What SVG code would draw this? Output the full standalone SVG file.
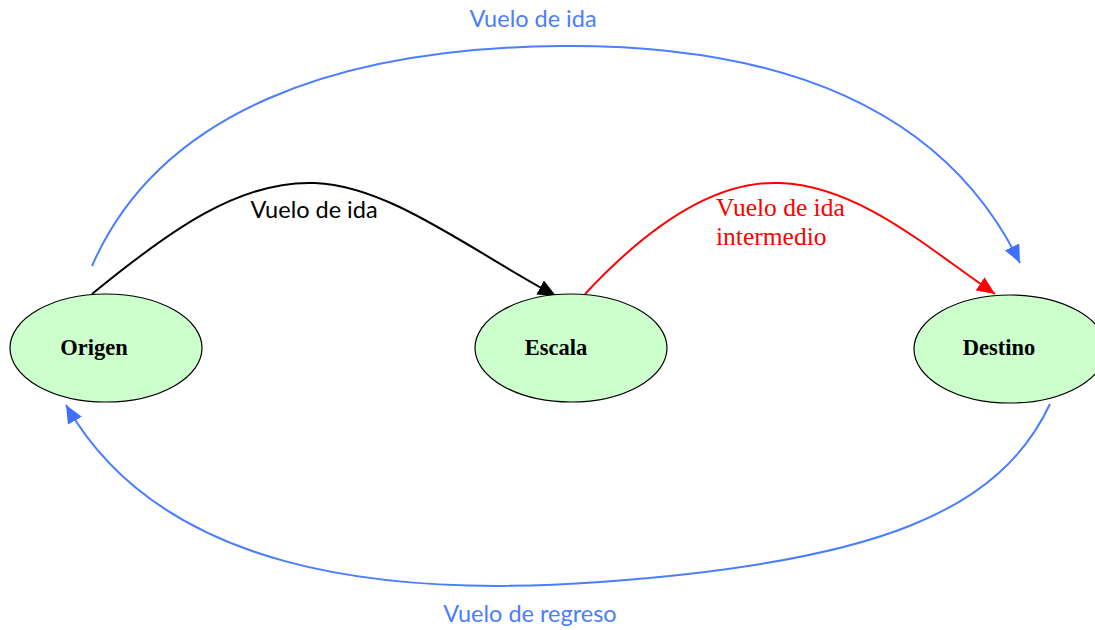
<svg xmlns="http://www.w3.org/2000/svg" width="1095" height="630" viewBox="0 0 1095 630">
<style>
.node ellipse{fill:#ccffcc;stroke:#000;stroke-width:1.2}
.node text{font-family:"Liberation Serif",serif;font-weight:bold;font-size:22.5px;text-anchor:middle;fill:#000}
.edge{fill:none;stroke-width:2}
.lbl{font-family:Lato,"Liberation Sans",sans-serif;font-size:23.5px}
.lbls{font-family:"Liberation Serif",serif;font-size:25.5px}
</style>
<defs>
<marker id="ab" markerUnits="userSpaceOnUse" markerWidth="20" markerHeight="16" refX="18" refY="8" orient="auto"><path d="M0,0 L18,8 L0,16 Z" fill="#000"/></marker>
<marker id="ar" markerUnits="userSpaceOnUse" markerWidth="20" markerHeight="16" refX="18" refY="8" orient="auto"><path d="M0,0 L18,8 L0,16 Z" fill="#ff0000"/></marker>
<marker id="al" markerUnits="userSpaceOnUse" markerWidth="20" markerHeight="16" refX="18" refY="8" orient="auto"><path d="M0,0 L18,8 L0,16 Z" fill="#3f6fff"/></marker>
</defs>
<rect width="1095" height="630" fill="#fff"/>
<g id="connectors">
<path class="edge" stroke="#4a7dff" d="M92,266 C160,110 340,48 560,46 C800,44 950,120 1020,263" marker-end="url(#al)"/>
<path class="edge" stroke="#000" d="M92,294 C170,230 240,180 315,183 C390,186 470,250 556,296" marker-end="url(#ab)"/>
<path class="edge" stroke="#ff0000" d="M585,294 C640,235 710,180 780,183 C860,186 930,250 995,294" marker-end="url(#ar)"/>
<path class="edge" stroke="#4a7dff" d="M1050,404 C1000,510 880,562 600,582 C380,598 160,570 66,405" marker-end="url(#al)"/>
</g>
<g id="labels">
<text class="lbl" x="533" y="27" text-anchor="middle" fill="#4a7dff">Vuelo de ida</text>
<text class="lbl" x="314" y="218" text-anchor="middle" fill="#000">Vuelo de ida</text>
<text class="lbls" x="716" y="216" fill="#ff0000">Vuelo de ida</text>
<text class="lbls" x="716" y="245" fill="#ff0000">intermedio</text>
<text class="lbl" x="530" y="622" text-anchor="middle" fill="#4a7dff">Vuelo de regreso</text>
</g>
<g id="origen" class="node"><ellipse cx="106" cy="348" rx="96" ry="54"/><text x="94" y="355">Origen</text></g>
<g id="escala" class="node"><ellipse cx="571" cy="348" rx="96" ry="54"/><text x="556" y="355">Escala</text></g>
<g id="destino" class="node"><ellipse cx="1010" cy="349" rx="96" ry="54"/><text x="999" y="355">Destino</text></g>
</svg>
